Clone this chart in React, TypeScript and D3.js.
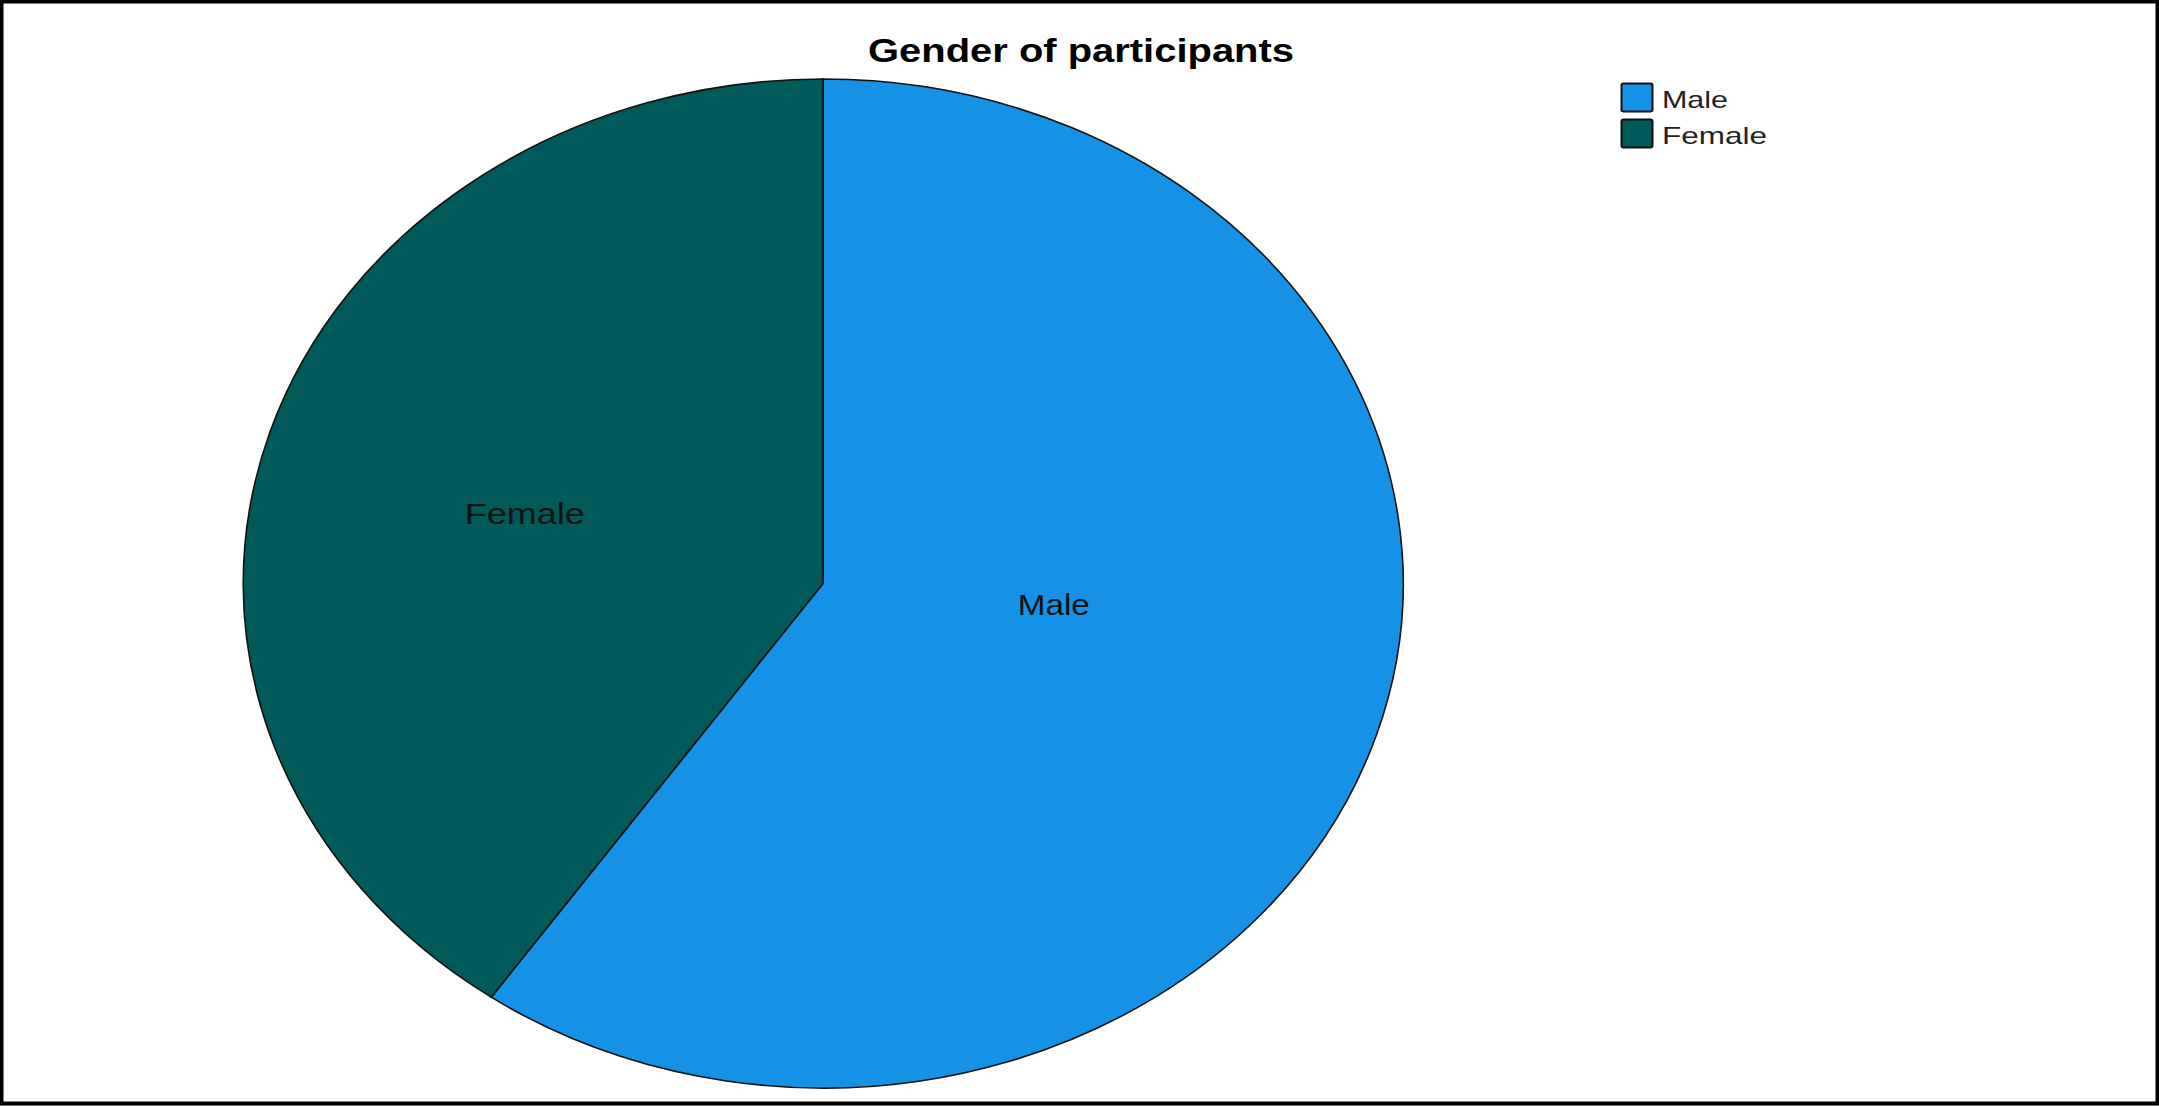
import React, { useRef, useEffect } from 'react';
import * as d3 from 'd3';

// data (shares of participants, %)
const categories = ['Male', 'Female'];
const shares = [59.7, 40.3];
const sliceColors = ['#1591e6', '#005a5a'];
const chartTitle = 'Gender of participants';

const W = 2159;
const H = 1106;

const App: React.FC = () => {
  const svgRef = useRef<SVGSVGElement | null>(null);

  useEffect(() => {
    if (!svgRef.current) return;
    const svg = d3.select(svgRef.current);
    svg.selectAll('*').remove();

    // the chart is stretched wider than tall, so the pie is an ellipse
    const cx = 823;
    const cy = 583.5;
    const rx = 580;
    const ry = 504.5;

    const rows = categories.map((c, i) => ({ name: c, value: shares[i], color: sliceColors[i] }));

    const pie = d3.pie<{ name: string; value: number; color: string }>()
      .sort(null)
      .value(d => d.value);
    const arcs = pie(rows);

    const arc = d3.arc<d3.PieArcDatum<{ name: string; value: number; color: string }>>()
      .innerRadius(0)
      .outerRadius(1);

    svg.append('rect')
      .attr('width', W)
      .attr('height', H)
      .attr('fill', '#fff');

    const g = svg.append('g')
      .attr('transform', `translate(${cx},${cy}) scale(${rx},${ry})`);

    g.selectAll('path')
      .data(arcs)
      .enter()
      .append('path')
      .attr('d', d => arc(d) ?? '')
      .attr('fill', d => d.data.color)
      .attr('stroke', '#111')
      .attr('stroke-width', 1.6)
      .attr('vector-effect', 'non-scaling-stroke');

    // slice labels (offsets in ellipse units, as placed in the source)
    const labelPos: Record<string, [number, number]> = {
      Male: [0.398, 0.041],
      Female: [-0.514, -0.139],
    };
    const labelWidth: Record<string, number> = { Male: 72, Female: 120 };
    arcs.forEach(d => {
      const [ux, uy] = labelPos[d.data.name];
      svg.append('text')
        .attr('x', cx + ux * rx)
        .attr('y', cy + uy * ry)
        .attr('dy', '0.35em')
        .attr('text-anchor', 'middle')
        .attr('font-family', '"Liberation Sans", Arial, sans-serif')
        .attr('font-size', 30)
        .attr('fill', '#111')
        .attr('textLength', labelWidth[d.data.name])
        .attr('lengthAdjust', 'spacingAndGlyphs')
        .text(d.data.name);
    });

    // title
    svg.append('text')
      .attr('x', 1081)
      .attr('y', 62)
      .attr('text-anchor', 'middle')
      .attr('font-family', '"Liberation Sans", Arial, sans-serif')
      .attr('font-weight', 'bold')
      .attr('font-size', 33)
      .attr('fill', '#000')
      .attr('textLength', 426)
      .attr('lengthAdjust', 'spacingAndGlyphs')
      .text(chartTitle);

    // legend
    const legendWidth: Record<string, number> = { Male: 66, Female: 105 };
    const legend = svg.append('g').attr('transform', 'translate(1621,83)');
    rows.forEach((r, i) => {
      const row = legend.append('g').attr('transform', `translate(0,${i * 36})`);
      row.append('rect')
        .attr('x', 0.5)
        .attr('y', 0.5)
        .attr('width', 31)
        .attr('height', 28)
        .attr('rx', 2)
        .attr('fill', r.color)
        .attr('stroke', '#111')
        .attr('stroke-width', 2);
      row.append('text')
        .attr('x', 41)
        .attr('y', 25)
        .attr('font-family', '"Liberation Sans", Arial, sans-serif')
        .attr('font-size', 24)
        .attr('fill', '#222')
        .attr('textLength', legendWidth[r.name])
        .attr('lengthAdjust', 'spacingAndGlyphs')
        .text(r.name);
    });

    // outer frame
    svg.append('rect')
      .attr('x', 1.5)
      .attr('y', 1.5)
      .attr('width', W - 3)
      .attr('height', H - 4)
      .attr('fill', 'none')
      .attr('stroke', '#000')
      .attr('stroke-width', 4);
  }, []);

  return (
    <div style={{ position: 'fixed', left: 0, top: 0, width: W, height: H, background: '#fff' }}>
      <svg ref={svgRef} width={W} height={H} style={{ display: 'block' }} />
    </div>
  );
};

export default App;
